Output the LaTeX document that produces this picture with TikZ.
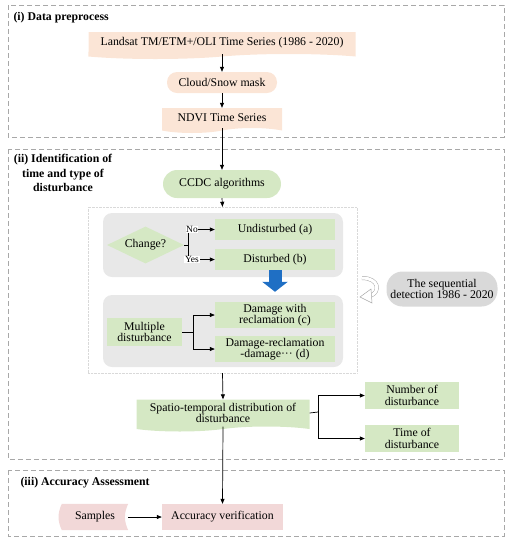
\documentclass[tikz,border=0pt]{standalone}
\usepackage{fontspec}
\setmainfont{Liberation Serif}
\definecolor{mPeach}{HTML}{FBE5D6}
\definecolor{mGreen}{HTML}{D5E8C4}
\definecolor{mPink}{HTML}{F2D8D8}
\definecolor{mGrey}{HTML}{E8E8E8}
\definecolor{mSeq}{HTML}{D9D9D9}
\definecolor{mBlue}{HTML}{1F6FC4}
\definecolor{mFrame}{HTML}{A8A8A8}
\usepackage{tikz}
\usetikzlibrary{arrows.meta,shapes.geometric,shapes.symbols,backgrounds}

\begin{document}
\begin{tikzpicture}[x=1pt, y=-1pt, font=\fontsize{11.8}{11.6}\selectfont,
  flow/.style={-{Triangle[length=5pt,width=4pt]}, line width=0.7pt},
  doc/.style={shape=tape, tape bend top=none, tape bend height=5pt, inner sep=1pt, align=center},
  pill/.style={rectangle, rounded corners=#1, inner sep=1pt, align=center},
  rectbox/.style={rectangle, inner sep=1pt, align=center},
  lbl/.style={fill=white, inner sep=0.6pt, xshift=4pt, font=\fontsize{9.5}{11}\selectfont},
  secframe/.style={mFrame, dash pattern=on 5pt off 3pt, line width=0.6pt},
  sectitle/.style={font=\fontsize{11.8}{14.5}\selectfont\bfseries, align=center}]
\useasboundingbox (0,0) rectangle (515,550);
\draw[secframe] (8,5) rectangle (504,137);
\draw[secframe] (8,149) rectangle (504,459);
\draw[secframe] (8,470) rectangle (504,536);
\node[sectitle, anchor=west] (titlei) at (10,18) {(i) Data preprocess};
\node[sectitle] (titleii) at (63,173) {(ii) Identification of\\time and type of\\disturbance};
\node[sectitle, anchor=west] (titleiii) at (17,483) {(iii) Accuracy Assessment};
\node[doc, fill=mPeach, minimum width=267, minimum height=27] (landsat) at (222,43) {Landsat TM/ETM+/OLI Time Series (1986 - 2020)};
\node[pill=10pt, fill=mPeach, minimum width=110, minimum height=21] (cloud) at (222,82.5) {Cloud/Snow mask};
\node[doc, fill=mPeach, minimum width=120, minimum height=25] (ndvi) at (222,118) {NDVI Time Series};
\node[pill=14pt, fill=mGreen, minimum width=118, minimum height=28] (ccdc) at (222,184) {CCDC algorithms};
\node[draw=mSeq, densely dotted, minimum width=269, minimum height=166] (detbox) at (222.5,290) {};
\node[fill=mGrey, rounded corners=9pt, minimum width=240, minimum height=64] (grpone) at (223,245) {};
\node[fill=mGrey, rounded corners=9pt, minimum width=240, minimum height=72] (grptwo) at (223,331) {};
\node[diamond, aspect=2.1, fill=mGreen, minimum width=77, minimum height=37, inner sep=0pt] (change) at (145.5,245) {Change?};
\node[rectbox, fill=mGreen, minimum width=120, minimum height=21] (undist) at (275,229.5) {Undisturbed (a)};
\node[rectbox, fill=mGreen, minimum width=120, minimum height=21] (dist) at (275,259.5) {Disturbed (b)};
\node[rectbox, fill=mGreen, minimum width=75, minimum height=28] (multi) at (144.5,332) {Multiple\\disturbance};
\node[rectbox, fill=mGreen, minimum width=120, minimum height=26] (damc) at (275,315) {Damage with\\reclamation (c)};
\node[rectbox, fill=mGreen, minimum width=120, minimum height=26] (damd) at (275,349) {Damage-reclamation\\-damage··· (d)};
\node[pill=16pt, fill=mSeq, minimum width=111, minimum height=35] (seq) at (442,289) {The sequential\\detection 1986 - 2020};
\node[doc, fill=mGreen, minimum width=173, minimum height=32] (spatio) at (223,413) {Spatio-temporal distribution of\\disturbance};
\node[rectbox, fill=mGreen, minimum width=94, minimum height=27] (number) at (412,395.5) {Number of\\disturbance};
\node[rectbox, fill=mGreen, minimum width=94, minimum height=27] (time) at (412,438.5) {Time of\\disturbance};
\node[rectbox, minimum width=66, minimum height=26] (samples) at (95,517) {Samples};
\node[rectbox, fill=mPink, minimum width=121, minimum height=26] (accver) at (222.5,517) {Accuracy verification};
\begin{scope}[on background layer]
\fill[mPink] (samples.north west) to[bend right=25] (samples.south west) -- (samples.south east) to[bend left=25] (samples.north east) -- cycle;
\end{scope}
% recycle sign
\draw[mFrame, line width=0.5pt, double=white, double distance=3pt] (362,278) .. controls (379,278) and (381,292) .. (370,296);
\filldraw[fill=white, draw=mFrame, line width=0.5pt] (371,289) -- (360,297) -- (372,303) -- cycle;
\draw[mBlue, line width=13pt, -{Triangle[length=10pt,width=25pt]}, shorten >=3pt] (dist.south) -- (dist.south |- grptwo.north);
\draw[flow] (landsat.south) -- (cloud.north);
\draw[flow] (cloud.south) -- (ndvi.north);
\draw[flow] (ndvi.south) -- (ccdc.north);
\draw[flow] (ccdc.south) -- (detbox.north);
\coordinate (chgsplit) at (188,245);
\draw[line width=0.7pt] (change.east) -- (chgsplit);
\draw[flow] (chgsplit) |- node[lbl] {No} (undist.west);
\draw[flow] (chgsplit) |- node[lbl] {Yes} (dist.west);
\coordinate (mdsplit) at (193,332);
\draw[line width=0.7pt] (multi.east) -- (mdsplit);
\draw[flow] (mdsplit) |- (damc.west);
\draw[flow] (mdsplit) |- (damd.west);
\draw[flow] (detbox.south) -- (spatio.north);
\coordinate (stsplit) at (318,412);
\draw[line width=0.7pt] (spatio.east) -- (stsplit);
\draw[flow] (stsplit) |- (number.west);
\draw[flow] (stsplit) |- (time.west);
\draw[flow] (spatio.south) -- (accver.north);
\draw[flow] (samples.east) -- (accver.west);
\end{tikzpicture}
\end{document}
